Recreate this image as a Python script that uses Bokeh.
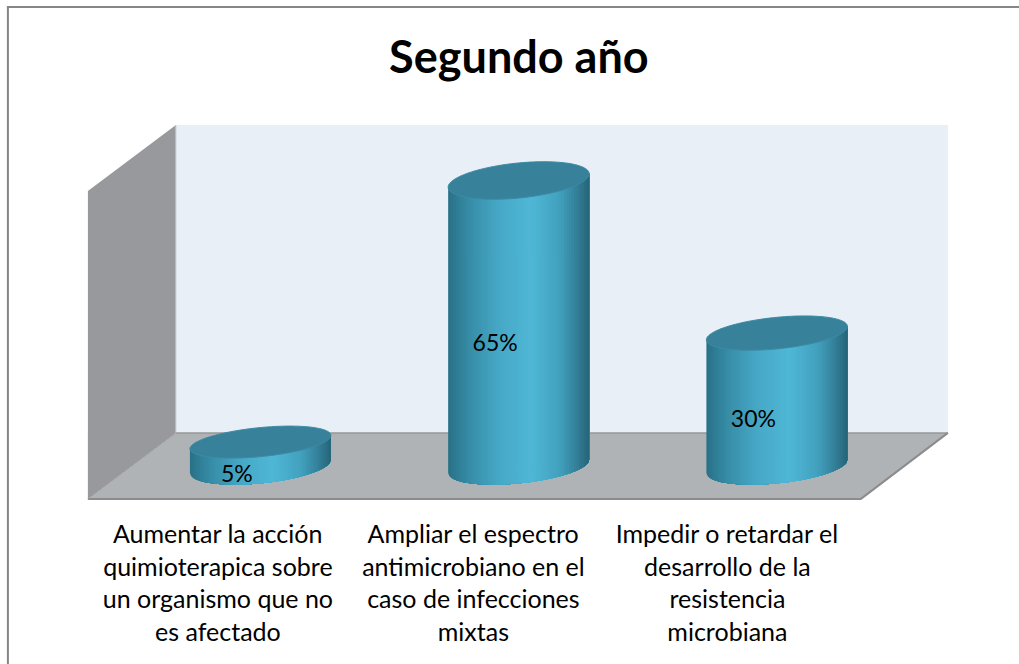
from bokeh.plotting import figure
from bokeh.embed import file_html
from bokeh.resources import INLINE
from bokeh.core.properties import value
import numpy as np

title_text = "Segundo año"
categories = [
    "Aumentar la acción\nquimioterapica sobre\nun organismo que no\nes afectado",
    "Ampliar el espectro\nantimicrobiano en el\ncaso de infecciones\nmixtas",
    "Impedir o retardar el\ndesarrollo de la\nresistencia\nmicrobiana",
]
percent = [5, 65, 30]
percent_labels = ["5%", "65%", "30%"]

W, H = 1019, 664
ZERO_PX, SCALE = 464.0, 4.36  # picture y of value 0, pixels per percent
C0_PX, STEP = 260.5, 258.25   # picture x of category 0, pixels per category
NUDGE = 0.6                   # sub-pixel alignment of the whole drawing


def X(px):
    return (np.asarray(px, dtype=float) - C0_PX) / STEP


def Y(px):
    return (ZERO_PX - np.asarray(px, dtype=float)) / SCALE


p = figure(width=W, height=H, output_backend="svg", toolbar_location=None,
           x_range=(float(X(NUDGE)), float(X(W + NUDGE))), y_range=(float(Y(H + NUDGE)), float(Y(NUDGE))),
           min_border=0, background_fill_color="white", border_fill_color="white")
p.axis.visible = False
p.grid.visible = False
p.outline_line_color = None

# outer frame
p.line(X([8, 8]), Y([7, 665]), line_color="#868686", line_width=2)
p.line(X([7, 1020]), Y([7, 7]), line_color="#868686", line_width=2)

# 3-D box: back wall, side wall, floor
p.patch(X([176, 948, 948, 176]), Y([125, 125, 433, 433]), fill_color="#E8EFF7", line_color=None)
p.patch(X([88, 176, 176, 88]), Y([191, 125, 433, 499]), fill_color="#97999C", line_color=None)
p.patch(X([88, 176, 948, 861]), Y([499, 433, 433, 499]), fill_color="#B0B3B6", line_color=None)
p.line(X([176, 176]), Y([125, 433]), line_color="#C9CCD0", line_width=1)
p.line(X([176, 948]), Y([433, 433]), line_color="#979797", line_width=1.5)
p.line(X([88, 861, 948]), Y([499, 499, 433]), line_color="#8C8C8C", line_width=2)
p.line(X([88, 176]), Y([499, 433]), line_color="#9FA2A5", line_width=1)

# cylinders
HALF_W = 70.5
SLOPE = 0.095
BOTTOM_PX = 466.5
BOTTOM_H = 17.0
stops = [0.0, 0.06, 0.18, 0.35, 0.58, 0.78, 0.9, 1.0]
stop_rgb = np.array([
    [0x2A, 0x72, 0x88], [0x2F, 0x7E, 0x97], [0x3A, 0x92, 0xAD], [0x46, 0xA8, 0xC6],
    [0x4F, 0xB7, 0xD6], [0x42, 0xA1, 0xBE], [0x33, 0x80, 0x99], [0x25, 0x62, 0x75],
], dtype=float)


def colour(t):
    rgb = [int(round(np.interp(t, stops, stop_rgb[:, i]))) for i in range(3)]
    return "#%02x%02x%02x" % tuple(rgb)


for i, v in enumerate(percent):
    cx = C0_PX + i * STEP
    top_px = ZERO_PX - v * SCALE
    top_h = 14.3 + 0.05 * v
    # each strip runs to the right edge, so later strips paint over it and no seam shows
    edges = np.linspace(-HALF_W, HALF_W, 57)
    xs, ys, cols = [], [], []
    for k in range(len(edges) - 1):
        dx = np.linspace(edges[k], HALF_W, max(3, (len(edges) - k) * 2))
        low = np.sqrt(np.maximum(1 - (dx / HALF_W) ** 2, 0))
        top_edge = top_px - SLOPE * dx
        bot_edge = BOTTOM_PX - SLOPE * dx + BOTTOM_H * low
        xs.append(X(np.r_[cx + dx, (cx + dx)[::-1]]))
        ys.append(Y(np.r_[top_edge, bot_edge[::-1]]))
        cols.append(colour((edges[k] + HALF_W) / (2 * HALF_W)))
    p.patches(xs, ys, fill_color=cols, line_color=None)
    t = np.linspace(0, 2 * np.pi, 121)
    dx = HALF_W * np.cos(t)
    p.patch(X(cx + dx), Y(top_px - SLOPE * dx + top_h * np.sin(t)),
            fill_color="#38819A", line_color="#3D8BA5", line_width=1)

# labels
font = value("Lato")
p.text(X([519]), Y([56.5]), text=[title_text], text_font=font, text_font_style="bold",
       text_font_size="45px", text_color="black", text_align="center", text_baseline="middle")
for i, (v, lab) in enumerate(zip(percent, percent_labels)):
    p.text(X([C0_PX + i * STEP - 23.5]), [v / 2 - 4.5], text=[lab], text_font=font,
           text_font_size="23px", text_color="black", text_align="center", text_baseline="middle")
LABEL_X = [218, 473.5, 727.5]
for cat, lx in zip(categories, LABEL_X):
    for j, line in enumerate(cat.split("\n")):
        p.text(X([lx]), Y([533.5 + j * 32.4]), text=[line], text_font=font,
               text_font_size="25px", text_color="black", text_align="center", text_baseline="middle")

open("out.html", "w").write(file_html(p, INLINE))
